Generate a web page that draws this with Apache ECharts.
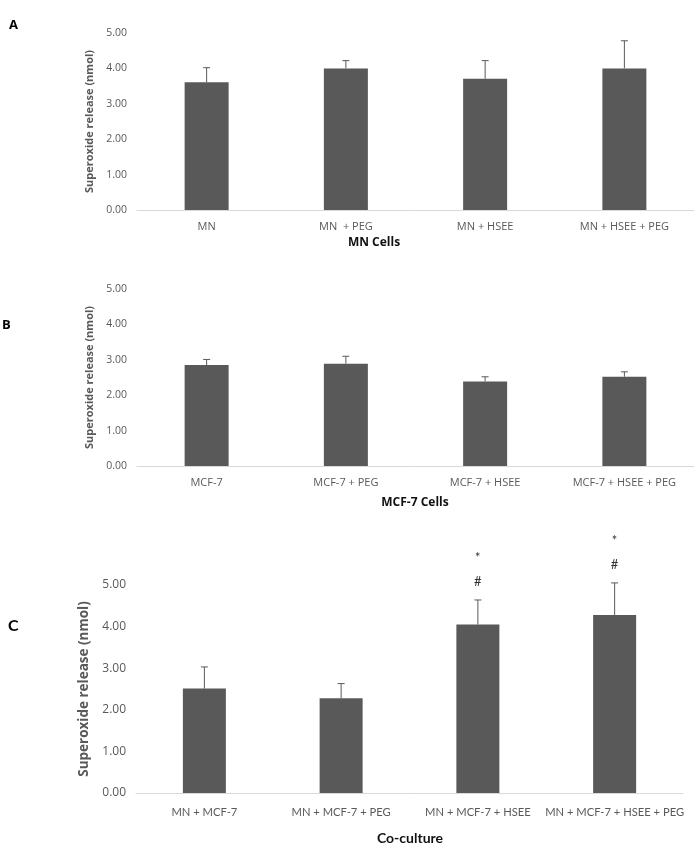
<!DOCTYPE html>
<html>
<head>
<meta charset="utf-8">
<script src="https://cdn.jsdelivr.net/npm/echarts@6/dist/echarts.min.js"></script>
<style>
html,body{margin:0;padding:0;background:#fff;}
#chart{width:694px;height:845px;}
</style>
</head>
<body>
<div id="chart"></div>
<script>
// ---- data ----
var yTicks = [0, 1, 2, 3, 4, 5];
var catsA = ['MN', 'MN  + PEG', 'MN + HSEE', 'MN + HSEE + PEG'];
var valsA = [3.61, 4.00, 3.71, 4.00];
var errTopA = [4.02, 4.22, 4.22, 4.78];

var catsB = ['MCF-7', 'MCF-7 + PEG', 'MCF-7 + HSEE', 'MCF-7 + HSEE + PEG'];
var valsB = [2.85, 2.89, 2.39, 2.52];
var errTopB = [3.01, 3.10, 2.52, 2.66];

var catsC = ['MN + MCF-7', 'MN + MCF-7 + PEG', 'MN + MCF-7 + HSEE', 'MN + MCF-7 + HSEE + PEG'];
var valsC = [2.51, 2.28, 4.05, 4.28];
var errTopC = [3.03, 2.63, 4.64, 5.05];
var marksC = [['', ''], ['', ''], ['*', '#'], ['*', '#']];

var yTitle = 'Superoxide release (nmol)';
var xTitles = ['MN Cells', 'MCF-7 Cells', 'Co-culture'];
var panelLetters = ['A', 'B', 'C'];

// ---- chart ----
var GRAY = '#595959';
var FONT = 'Lato, "Open Sans", sans-serif';
var OPEN = '"Open Sans", Lato, sans-serif';
var chart = echarts.init(document.getElementById('chart'), null, {renderer: 'canvas'});

function yAxis(idx, fs, tfs, gap) {
  return {
    type: 'value', gridIndex: idx, min: yTicks[0], max: yTicks[yTicks.length - 1], interval: 1,
    axisLine: {show: false}, axisTick: {show: false}, splitLine: {show: false},
    axisLabel: {color: GRAY, fontSize: fs, fontFamily: OPEN, margin: 10,
      formatter: function (v) { return v.toFixed(2); }},
    name: yTitle, nameLocation: 'middle', nameGap: gap,
    nameTextStyle: {color: GRAY, fontSize: tfs, fontWeight: 'bold', fontFamily: OPEN}
  };
}
function xAxis(idx, cats, fs, margin, fam) {
  return {
    type: 'category', gridIndex: idx, data: cats,
    axisLine: {lineStyle: {color: '#d9d9d9', width: 1}}, axisTick: {show: false},
    axisLabel: {color: GRAY, fontSize: fs, fontFamily: fam, interval: 0, margin: margin}
  };
}
function errSeries(idx, top, vals, marks, markFs) {
  return {
    type: 'custom', xAxisIndex: idx, yAxisIndex: idx, z: 5,
    data: top.map(function (t, i) { return [i, vals[i], t]; }),
    renderItem: function (params, api) {
      var i = api.value(0);
      var p0 = api.coord([i, api.value(1)]);
      var p1 = api.coord([i, api.value(2)]);
      var children = [
        {type: 'line', shape: {x1: p0[0], y1: p0[1], x2: p1[0], y2: p1[1]}, style: {stroke: GRAY, lineWidth: 1}},
        {type: 'line', shape: {x1: p1[0] - 3.5, y1: p1[1], x2: p1[0] + 3.5, y2: p1[1]}, style: {stroke: GRAY, lineWidth: 1}}
      ];
      if (marks && marks[i][0]) {
        children.push({type: 'text', style: {text: marks[i][1], x: p1[0], y: p1[1] - 18, align: 'center', verticalAlign: 'middle', fill: '#333', font: markFs + 'px ' + FONT}});
        children.push({type: 'text', style: {text: marks[i][0], x: p1[0], y: p1[1] - 42, align: 'center', verticalAlign: 'middle', fill: '#333', font: markFs + 'px ' + FONT}});
      }
      return {type: 'group', children: children};
    }
  };
}
function barSeries(idx, vals, w) {
  return {type: 'bar', xAxisIndex: idx, yAxisIndex: idx, data: vals, barWidth: w,
    itemStyle: {color: GRAY}, silent: true};
}

chart.setOption({
  animation: false,
  backgroundColor: '#fff',
  grid: [
    {left: 137, right: 0, top: 33, height: 177},
    {left: 137, right: 0, top: 289, height: 177},
    {left: 136, right: 11, top: 585, height: 208}
  ],
  xAxis: [xAxis(0, catsA, 11, 11, OPEN), xAxis(1, catsB, 11, 11, OPEN), xAxis(2, catsC, 11.2, 14, FONT)],
  yAxis: [yAxis(0, 10.5, 11, 40), yAxis(1, 10.5, 11, 40), yAxis(2, 12, 13.5, 40)],
  series: [
    barSeries(0, valsA, 44), errSeries(0, errTopA, valsA, null, 0),
    barSeries(1, valsB, 44), errSeries(1, errTopB, valsB, null, 0),
    barSeries(2, valsC, 43), errSeries(2, errTopC, valsC, marksC, 13)
  ],
  graphic: [
    {type: 'text', left: 9, top: 19, style: {text: panelLetters[0], font: 'bold 13px ' + OPEN, fill: '#000'}},
    {type: 'text', left: 2, top: 319, style: {text: panelLetters[1], font: 'bold 13px ' + OPEN, fill: '#000'}},
    {type: 'text', left: 8, top: 618, style: {text: panelLetters[2], font: 'bold 16px ' + FONT, fill: '#000'}},
    {type: 'text', x: 374, y: 243, style: {text: xTitles[0], font: 'bold 12px ' + OPEN, fill: '#111', align: 'center', verticalAlign: 'middle'}},
    {type: 'text', x: 415, y: 503, style: {text: xTitles[1], font: 'bold 12px ' + OPEN, fill: '#111', align: 'center', verticalAlign: 'middle'}},
    {type: 'text', x: 410, y: 838, style: {text: xTitles[2], font: 'bold 14px ' + FONT, fill: '#111', align: 'center', verticalAlign: 'middle'}}
  ]
});
</script>
</body>
</html>
